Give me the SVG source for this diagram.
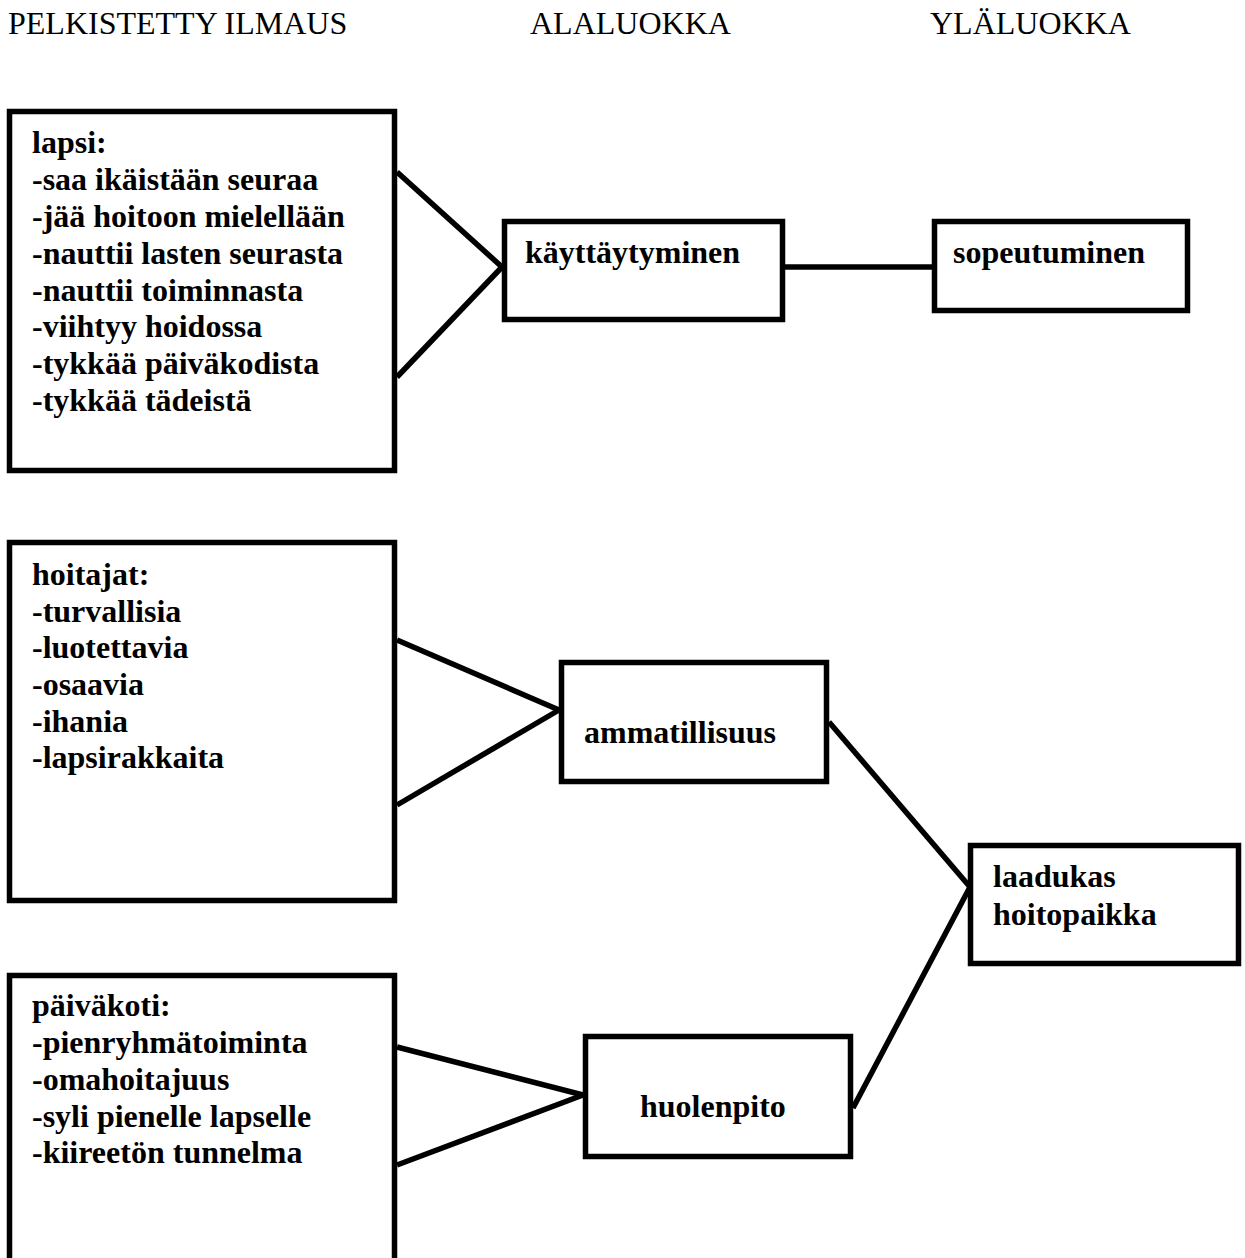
<svg xmlns="http://www.w3.org/2000/svg" width="1245" height="1258" viewBox="0 0 1245 1258">
<style>
.box{fill:#fff;stroke:#000;stroke-width:5.5}
.ln{stroke:#000;stroke-width:5.5;fill:none}
.hd{font-family:"Liberation Serif","Times New Roman",serif;font-size:32px;fill:#000}
.t{font-family:"Liberation Serif","Times New Roman",serif;font-size:32px;font-weight:bold;fill:#000}
</style>
<rect width="1245" height="1258" fill="#fff"/>
<g id="headers">
<text class="hd" x="8" y="34">PELKISTETTY ILMAUS</text>
<text class="hd" x="530" y="34">ALALUOKKA</text>
<text class="hd" x="930" y="34">YLÄLUOKKA</text>
</g>
<g id="connectors">
<line class="ln" x1="397" y1="172" x2="502" y2="267"/>
<line class="ln" x1="397" y1="377" x2="502" y2="267"/>
<line class="ln" x1="785" y1="267" x2="932" y2="267"/>
<line class="ln" x1="397" y1="640" x2="559" y2="710"/>
<line class="ln" x1="397" y1="805" x2="559" y2="710"/>
<line class="ln" x1="397" y1="1047" x2="583" y2="1095"/>
<line class="ln" x1="397" y1="1165" x2="583" y2="1095"/>
<line class="ln" x1="829" y1="722" x2="970" y2="887"/>
<line class="ln" x1="853" y1="1108" x2="970" y2="887"/>
</g>
<g id="lapsi">
<rect class="box" x="9.5" y="111.5" width="385" height="359"/>
<text class="t" x="32" y="153">lapsi:</text>
<text class="t" x="32" y="190">-saa ikäistään seuraa</text>
<text class="t" x="32" y="227">-jää hoitoon mielellään</text>
<text class="t" x="32" y="264">-nauttii lasten seurasta</text>
<text class="t" x="32" y="301">-nauttii toiminnasta</text>
<text class="t" x="32" y="337">-viihtyy hoidossa</text>
<text class="t" x="32" y="374">-tykkää päiväkodista</text>
<text class="t" x="32" y="411">-tykkää tädeistä</text>
</g>
<g id="hoitajat">
<rect class="box" x="9.5" y="542.5" width="385" height="358"/>
<text class="t" x="32" y="585">hoitajat:</text>
<text class="t" x="32" y="622">-turvallisia</text>
<text class="t" x="32" y="658">-luotettavia</text>
<text class="t" x="32" y="695">-osaavia</text>
<text class="t" x="32" y="732">-ihania</text>
<text class="t" x="32" y="768">-lapsirakkaita</text>
</g>
<g id="paivakoti">
<rect class="box" x="9.5" y="975.5" width="385" height="320"/>
<text class="t" x="32" y="1016">päiväkoti:</text>
<text class="t" x="32" y="1053">-pienryhmätoiminta</text>
<text class="t" x="32" y="1090">-omahoitajuus</text>
<text class="t" x="32" y="1127">-syli pienelle lapselle</text>
<text class="t" x="32" y="1163">-kiireetön tunnelma</text>
</g>
<g id="kayttaytyminen">
<rect class="box" x="504.5" y="221.5" width="278" height="98"/>
<text class="t" x="525" y="263">käyttäytyminen</text>
</g>
<g id="sopeutuminen">
<rect class="box" x="934.5" y="221.5" width="253" height="89"/>
<text class="t" x="953" y="263">sopeutuminen</text>
</g>
<g id="ammatillisuus">
<rect class="box" x="561.5" y="662.5" width="265" height="119"/>
<text class="t" x="584" y="743">ammatillisuus</text>
</g>
<g id="laadukas">
<rect class="box" x="970.5" y="845.5" width="268" height="118"/>
<text class="t" x="993" y="887">laadukas</text>
<text class="t" x="993" y="925">hoitopaikka</text>
</g>
<g id="huolenpito">
<rect class="box" x="585.5" y="1036.5" width="265" height="120"/>
<text class="t" x="640" y="1117">huolenpito</text>
</g>
</svg>
